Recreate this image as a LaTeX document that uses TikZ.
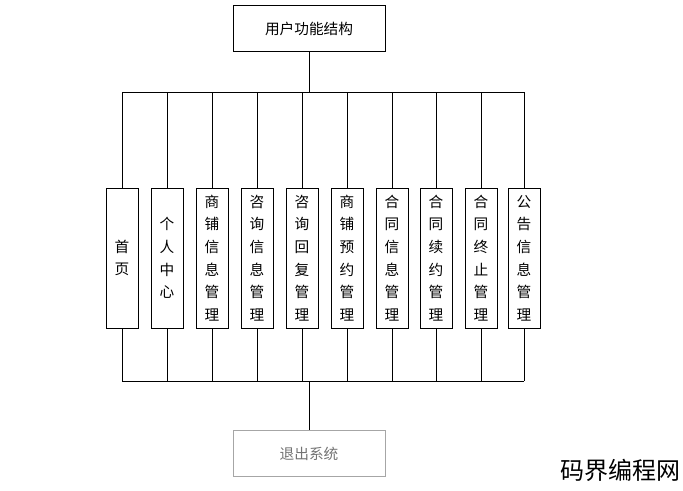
\documentclass[tikz,border=0pt]{standalone}
\usepackage{fontspec}
\newfontfamily\cjk{Noto Sans CJK SC}
\begin{document}
\begin{tikzpicture}[x=0.75pt,y=-0.75pt,semithick,
    box/.style={draw,font=\cjk\fontsize{11}{17}\selectfont,inner sep=0pt},
    col/.style={box,minimum width=24pt,minimum height=105pt,align=center}]
  \useasboundingbox (0,0) rectangle (683,490);

  \node[box,minimum width=114pt,minimum height=35pt] (top) at (309,28.5) {用户功能结构};
  \node[box,draw=gray!70,text=gray!90!black,minimum width=114pt,minimum height=35pt] (exit) at (309,453.5) {退出系统};

  \foreach \x/\t [count=\i] in {122/首\\页,167/个\\人\\中\\心,212/商\\铺\\信\\息\\管\\理,
      257/咨\\询\\信\\息\\管\\理,302/咨\\询\\回\\复\\管\\理,347/商\\铺\\预\\约\\管\\理,
      392/合\\同\\信\\息\\管\\理,436/合\\同\\续\\约\\管\\理,481/合\\同\\终\\止\\管\\理,
      524/公\\告\\信\\息\\管\\理}
    \node[col] (s\i) at (\x,258) {\t};

  \coordinate (upbus) at (309,92);
  \coordinate (lowbus) at (309,381);
  \draw (top.south) -- (upbus);
  \draw (lowbus) -- (exit.north);
  \draw (s1.north |- upbus) -- (s10.north |- upbus);
  \draw (s1.south |- lowbus) -- (s10.south |- lowbus);
  \foreach \i in {1,...,10} {
    \draw (s\i.north |- upbus) -- (s\i.north);
    \draw (s\i.south) -- (s\i.south |- lowbus);
  }

  \node[font=\cjk\fontsize{18}{20}\selectfont] (mark) at (620,470) {码界编程网};
\end{tikzpicture}
\end{document}
